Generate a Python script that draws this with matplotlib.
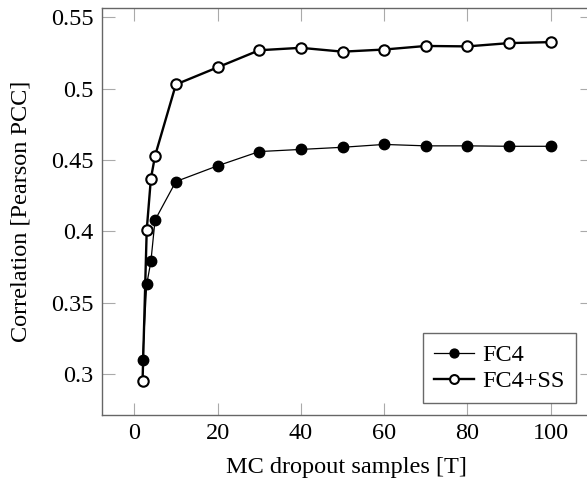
import matplotlib
matplotlib.use("Agg")
import matplotlib.pyplot as plt

samples = [2, 3, 4, 5, 10, 20, 30, 40, 50, 60, 70, 80, 90, 100]
fc4 = [0.310, 0.363, 0.379, 0.408, 0.435, 0.446, 0.456, 0.4575, 0.459, 0.461, 0.460, 0.460, 0.4597, 0.4597]
fc4_ss = [0.295, 0.401, 0.437, 0.453, 0.503, 0.515, 0.527, 0.5287, 0.526, 0.5275, 0.530, 0.5297, 0.532, 0.5327]
xticks = [0, 20, 40, 60, 80, 100]
yticks = [0.30, 0.35, 0.40, 0.45, 0.50, 0.55]
ytick_labels = ["0.3", "0.35", "0.4", "0.45", "0.5", "0.55"]

plt.rcParams['font.family'] = ['Liberation Serif', 'DejaVu Serif']
plt.rcParams['mathtext.fontset'] = 'stix'

fs = 17.5
fig = plt.figure(figsize=(5.87, 4.82), dpi=100)
ax = fig.add_axes([0.1733, 0.139, 0.8346, 0.8444])

ax.plot(samples, fc4, color='black', lw=0.9, marker='o', ms=7.5,
        mfc='black', mec='black', mew=1.0, label='FC4', zorder=3)
ax.plot(samples, fc4_ss, color='black', lw=1.7, marker='o', ms=7.5,
        mfc='white', mec='black', mew=1.5, label='FC4+SS', zorder=4)

ax.set_xlim(-7.8, 109.8)
ax.set_ylim(0.2714, 0.5566)
ax.set_xticks(xticks)
ax.set_yticks(yticks)
ax.set_yticklabels(ytick_labels)
ax.tick_params(direction='in', length=9, width=0.8, color='#aaaaaa',
               top=True, right=True, labelsize=fs, pad=6)
for s in ax.spines.values():
    s.set_color('#666666')
    s.set_linewidth(1.0)
ax.spines['right'].set_visible(False)

ax.set_xlabel('MC dropout samples [T]', fontsize=fs, labelpad=9)
ax.set_ylabel('Correlation [Pearson PCC]', fontsize=fs, labelpad=14)

leg = ax.legend(loc='lower right', bbox_to_anchor=(0.968, 0.0295), fontsize=fs,
                frameon=True, fancybox=False, handlelength=1.65, handletextpad=0.36,
                borderpad=0.45, labelspacing=0.15, markerscale=0.85,
                borderaxespad=0.0)
leg.get_frame().set_edgecolor('#444444')
leg.get_frame().set_linewidth(1.0)

fig.savefig('out.png', dpi=100)
